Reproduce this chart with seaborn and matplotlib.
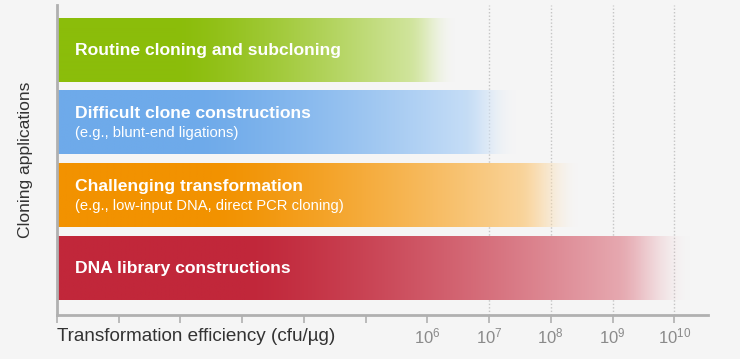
import numpy as np
import pandas as pd
import matplotlib
matplotlib.use('Agg')
import matplotlib.pyplot as plt
import matplotlib.colors as mcolors
from matplotlib.transforms import blended_transform_factory
import seaborn as sns

# Chart data
applications = ['Routine cloning and subcloning',
                'Difficult clone constructions',
                'Challenging transformation',
                'DNA library constructions']
subtitles = ['',
             '(e.g., blunt-end ligations)',
             '(e.g., low-input DNA, direct PCR cloning)',
             '']
efficiency = [3e6, 3e7, 3e8, 2e10]
bar_colors = ['#8bbd0a', '#6eaaea', '#f29200', '#c1273a']
tick_values = [1e0, 1e1, 1e2, 1e3, 1e4, 1e5, 1e6, 1e7, 1e8, 1e9, 1e10]
tick_labels = ['', '', '', '', '', '',
               r'$\mathregular{10^{6}}$', r'$\mathregular{10^{7}}$',
               r'$\mathregular{10^{8}}$', r'$\mathregular{10^{9}}$',
               r'$\mathregular{10^{10}}$']
grid_values = [1e7, 1e8, 1e9, 1e10]

bg = '#f5f5f5'
sns.set_style('white')
plt.rcParams['font.family'] = ['Liberation Sans', 'DejaVu Sans']

df = pd.DataFrame({'app': applications, 'eff': efficiency})

fig = plt.figure(figsize=(7.4, 3.59), dpi=100, facecolor=bg)
ax = fig.add_axes([0.077, 0.1226, 0.88, 0.8634], facecolor=bg)

sns.barplot(data=df, x='eff', y='app', hue='app', palette=bar_colors,
            orient='h', width=0.866, legend=False, ax=ax, zorder=2)
ax.set_xscale('log')
ax.set_xlim(1, 10 ** 10.55)
ax.set_ylim(3.64, -0.62)

for xv in grid_values:
    ax.axvline(xv, color='#c4c4c4', lw=1, ls=(0, (1, 1.5)), zorder=0)

# gradient fills replacing flat bars
fig.canvas.draw()
to_axes = ax.transData + ax.transAxes.inverted()
n = 400
t = np.linspace(0, 1, n)
for patch, val, col in zip(ax.patches, efficiency, bar_colors):
    y0 = patch.get_y()
    y1 = y0 + patch.get_height()
    (_, ay0) = to_axes.transform((1, y0))
    (ax1, ay1) = to_axes.transform((val, y1))
    rgb = np.array(mcolors.to_rgb(col))
    s = np.clip((t - 0.3) / 0.7, 0, 1)
    mix = 0.75 * s ** 1.3
    a = np.clip((t - 0.88) / 0.12, 0, 1)
    alpha = 1 - a * a * (3 - 2 * a)
    img = np.zeros((1, n, 4))
    img[0, :, :3] = rgb[None, :] * (1 - mix[:, None]) + mix[:, None]
    img[0, :, 3] = alpha
    ax.imshow(img, extent=(0, ax1, min(ay0, ay1), max(ay0, ay1)),
              transform=ax.transAxes, aspect='auto', interpolation='bilinear',
              zorder=2)
    patch.set_facecolor('none')
    patch.set_edgecolor('none')

# labels inside bars
trans = blended_transform_factory(ax.transAxes, ax.transData)
for i, (name, sub) in enumerate(zip(applications, subtitles)):
    if sub:
        ax.text(0.028, i - 0.13, name, transform=trans, color='white',
                fontsize=12.6, fontweight='bold', va='center', zorder=3)
        ax.text(0.028, i + 0.14, sub, transform=trans, color='white',
                fontsize=10.6, va='center', zorder=3)
    else:
        ax.text(0.028, i, name, transform=trans, color='white',
                fontsize=12.6, fontweight='bold', va='center', zorder=3)

ax.set_xticks(tick_values)
ax.set_xticklabels(tick_labels)
ax.xaxis.set_minor_locator(matplotlib.ticker.NullLocator())
ax.tick_params(axis='x', direction='out', length=6, width=1.2, color='#b0b0b0',
               labelcolor='#8a8a8a', labelsize=12, pad=2, bottom=True)
ax.set_yticks([])
ax.set_ylabel('Cloning applications', fontsize=12.6, color='#333333', va='center')
ax.yaxis.set_label_coords(-0.049, 0.5)
ax.set_xlabel('Transformation efficiency (cfu/µg)', fontsize=13.6,
              color='#333333', loc='left', va='center')
ax.xaxis.set_label_coords(0, -0.07)

for side in ['top', 'right']:
    ax.spines[side].set_visible(False)
for side in ['left', 'bottom']:
    ax.spines[side].set_color('#b0b0b0')
    ax.spines[side].set_linewidth(2)
ax.spines['left'].set_zorder(4)

fig.savefig('out.png', dpi=100, facecolor=bg)
